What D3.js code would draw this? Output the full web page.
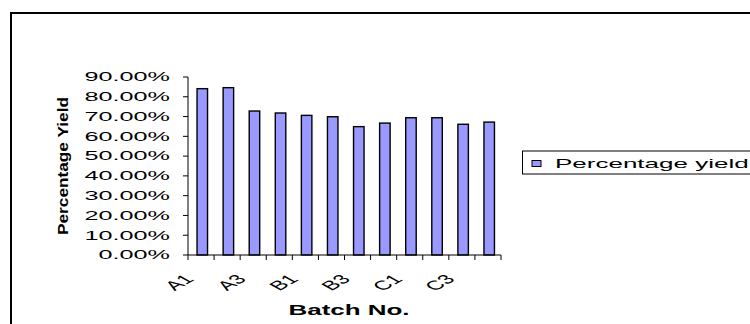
<!DOCTYPE html>
<html><head><meta charset="utf-8">
<script src="https://cdn.jsdelivr.net/npm/d3@7"></script>
<style>body{margin:0;background:#fff}svg{display:block}text{font-family:"Liberation Sans",Arial,sans-serif}</style>
</head><body>
<svg id="c" width="750" height="324"></svg>
<script>
const categories = ["A1","A2","A3","A4","B1","B2","B3","B4","C1","C2","C3","C4"];
const yieldValues = [84.1, 84.6, 72.8, 71.8, 70.6, 69.9, 64.9, 66.7, 69.4, 69.4, 66.1, 67.2];
const yTicks = [0,10,20,30,40,50,60,70,80,90];
const seriesName = "Percentage yield";

const svg = d3.select("#c");
const SX = 2.1;
// frame
svg.append("rect").attr("x",11).attr("y",13).attr("width",760).attr("height",340)
  .attr("fill","none").attr("stroke","#000").attr("stroke-width",2);

const x = d3.scaleBand().domain(categories).range([188,501]).padding(0);
const y = d3.scaleLinear().domain([0,90]).range([255,77]);

// bars
svg.append("g").selectAll("rect").data(yieldValues).join("rect")
  .attr("x",(d,i)=>x(categories[i]) + x.bandwidth()/2 - 4)
  .attr("width",10.5)
  .attr("y",d=>y(d)).attr("height",d=>y(0)-y(d))
  .attr("fill","#9999FF").attr("stroke","#000").attr("stroke-width",1.4);

// y axis
const ya = svg.append("g");
ya.append("line").attr("x1",188).attr("x2",188).attr("y1",y(90)).attr("y2",y(0)).attr("stroke","#000");
yTicks.forEach(t=>{
  ya.append("line").attr("x1",183).attr("x2",188).attr("y1",y(t)).attr("y2",y(t)).attr("stroke","#000");
  ya.append("g").attr("transform",`translate(170,${y(t)}) scale(${SX},1)`)
    .append("text").attr("text-anchor","end").attr("dy","0.36em").attr("font-size",12)
    .text(d3.format(".2f")(t)+"%");
});
// x axis
const xa = svg.append("g");
xa.append("line").attr("x1",188).attr("x2",501).attr("y1",y(0)).attr("y2",y(0)).attr("stroke","#000");
categories.forEach((c,i)=>{
  const xb = x(c) + x.bandwidth();
  xa.append("line").attr("x1",xb).attr("x2",xb).attr("y1",y(0)).attr("y2",y(0)+5).attr("stroke","#000");
  if(i%2===0){
    const cx = x(c)+x.bandwidth()/2;
    xa.append("g").attr("transform",`translate(${cx-6},${y(0)+25}) scale(1.8,1) rotate(-45)`)
      .append("text").attr("text-anchor","end").attr("font-size",13).text(c);
  }
});
xa.append("line").attr("x1",188).attr("x2",188).attr("y1",y(0)).attr("y2",y(0)+5).attr("stroke","#000");

// axis titles
svg.append("g").attr("transform",`translate(349,315) scale(1.73,1)`)
  .append("text").attr("text-anchor","middle").attr("font-size",15).attr("font-weight","bold").text("Batch No.");
svg.append("g").attr("transform",`translate(68,166) rotate(-90)`)
  .append("text").attr("text-anchor","middle").attr("font-size",15).attr("font-weight","bold")
  .attr("textLength",138).attr("lengthAdjust","spacingAndGlyphs").text("Percentage Yield");

// legend
const lg = svg.append("g");
lg.append("rect").attr("x",522.5).attr("y",151).attr("width",300).attr("height",23)
  .attr("fill","#fff").attr("stroke","#000").attr("stroke-width",1);
lg.append("rect").attr("x",532).attr("y",160.5).attr("width",9).attr("height",6)
  .attr("fill","#9999FF").attr("stroke","#000").attr("stroke-width",1);
lg.append("g").attr("transform",`translate(555,167.5) scale(2.0,1)`)
  .append("text").attr("font-size",13).text(seriesName);
</script>
</body></html>
